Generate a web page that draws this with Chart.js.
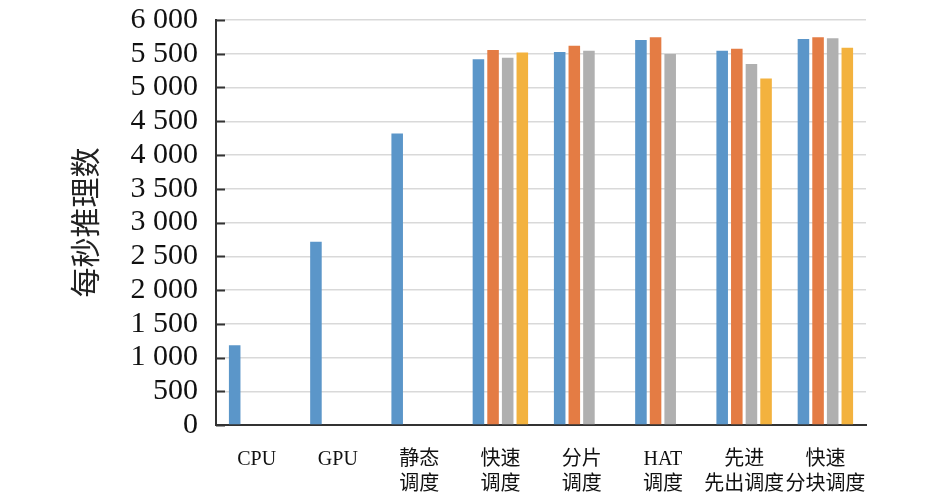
<!DOCTYPE html>
<html>
<head>
<meta charset="utf-8">
<script src="https://cdn.jsdelivr.net/npm/chart.js@4.4.1/dist/chart.umd.min.js"></script>
<style>
  html, body { margin: 0; padding: 0; background: #fff; }
  #wrap { width: 945px; height: 495px; }
</style>
</head>
<body>
<div id="wrap"><canvas id="chart"></canvas></div>
<script>
// categories (multi-line labels)
var categories = [
    ['CPU'], ['GPU'], ['静态', '调度'], ['快速', '调度'], ['分片', '调度'],
    ['HAT', '调度'], ['先进', '先出调度'], ['快速', '分块调度']
];
// four series (null = no bar)
var seriesBlue   = [1180, 2715, 4320, 5420, 5525, 5705, 5545, 5720];
var seriesOrange = [null, null, null, 5555, 5620, 5745, 5575, 5745];
var seriesGray   = [null, null, null, 5440, 5545, 5495, 5350, 5730];
var seriesYellow = [null, null, null, 5520, null, null, 5135, 5590];
var yTicks = [0, 500, 1000, 1500, 2000, 2500, 3000, 3500, 4000, 4500, 5000, 5500, 6000];
var yTitle = '每秒推理数';

var serif = "'Liberation Serif', 'Noto Sans CJK SC', serif";

function fmt(v){
    var s = String(v);
    if (s.length > 3){
        s = s.slice(0, s.length - 3) + ' ' + s.slice(s.length - 3);
    }
    return s;
}

// short inward tick marks on the left axis
var innerTicks = {
    id: 'innerTicks',
    afterDatasetsDraw(chart){
        var y = chart.scales.y;
        var ctx = chart.ctx;
        ctx.save();
        ctx.strokeStyle = '#333';
        ctx.lineWidth = 2;
        yTicks.forEach(function(t){
            var py = Math.round(y.getPixelForValue(t)) + 0.5;
            ctx.beginPath();
            ctx.moveTo(y.right, py);
            ctx.lineTo(y.right + 9, py);
            ctx.stroke();
        });
        ctx.restore();
    }
};

function ds(label, data, color){
    return {
        label: label,
        data: data,
        backgroundColor: color,
        borderWidth: 0,
        categoryPercentage: 0.72,
        barPercentage: 0.79,
        skipNull: false
    };
}

new Chart(document.getElementById('chart').getContext('2d'), {
    type: 'bar',
    data: {
        labels: categories,
        datasets: [
            ds('s1', seriesBlue, '#5b96c9'),
            ds('s2', seriesOrange, '#e47c44'),
            ds('s3', seriesGray, '#b0b0b0'),
            ds('s4', seriesYellow, '#f3b23e')
        ]
    },
    options: {
        responsive: true,
        maintainAspectRatio: false,
        animation: false,
        layout: { padding: { left: 70, right: 79, top: 20, bottom: 0 } },
        plugins: {
            legend: { display: false },
            tooltip: { enabled: false }
        },
        scales: {
            x: {
                grid: { display: false, drawTicks: false },
                border: { display: true, color: '#333', width: 2 },
                ticks: {
                    color: '#111',
                    padding: 22,
                    maxRotation: 0,
                    autoSkip: false,
                    font: { family: serif, size: 20, lineHeight: 1.25 }
                },
                afterFit: function(s){ s.height = 70; s.paddingLeft = 0; s.paddingRight = 0; }
            },
            y: {
                min: 0,
                max: 6000,
                afterBuildTicks: function(s){
                    s.ticks = yTicks.map(function(v){ return { value: v }; });
                },
                grid: { color: '#d9d9d9', lineWidth: 1.5, drawTicks: false },
                border: { display: true, color: '#333', width: 2 },
                ticks: {
                    color: '#111',
                    padding: 18,
                    autoSkip: false,
                    font: { family: serif, size: 30 },
                    callback: function(v){ return fmt(v); }
                },
                title: {
                    display: true,
                    text: yTitle,
                    color: '#222',
                    padding: 0,
                    font: { family: serif, size: 30, lineHeight: 1.2 }
                },
                afterFit: function(s){ s.width = 146; s.paddingTop = 0; s.paddingBottom = 0; }
            }
        }
    },
    plugins: [innerTicks]
});
</script>
</body>
</html>
